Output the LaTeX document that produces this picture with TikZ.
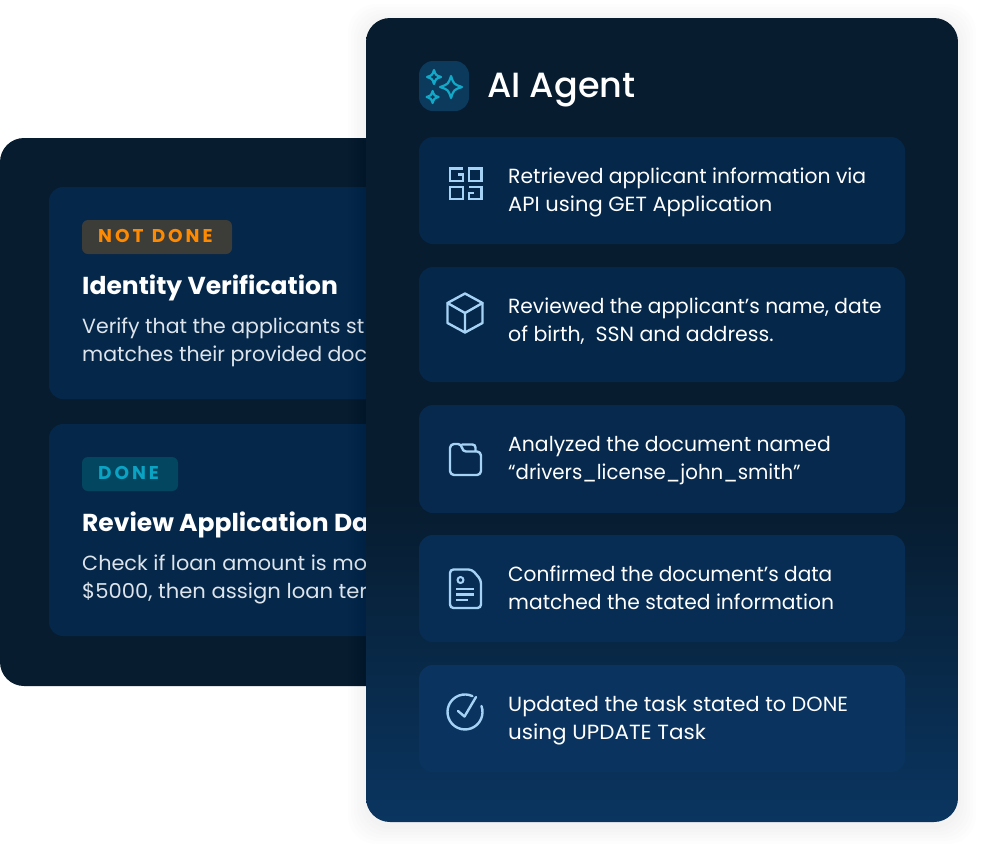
\documentclass[tikz,border=0pt]{standalone}
\usepackage{fontspec}
\setmainfont{Poppins}
\newfontfamily\tagfont[LetterSpace=16,WordSpace=1.2]{Poppins}
\newfontfamily\titlefont{Poppins Medium}
\definecolor{panelA}{HTML}{071C2F}
\definecolor{panelC}{HTML}{0A3560}
\definecolor{cardA}{HTML}{05274A}
\definecolor{cardB}{HTML}{06294D}
\definecolor{cardC}{HTML}{072D54}
\definecolor{cardD}{HTML}{0A345F}
\definecolor{iconblue}{HTML}{A6D2F5}
\definecolor{bodygrey}{HTML}{DDE4EB}
\definecolor{tagor}{HTML}{FF8A00}
\definecolor{tagorbg}{HTML}{3C3C39}
\definecolor{tagcy}{HTML}{0AA3C4}
\definecolor{tagcybg}{HTML}{03465F}
\definecolor{sparkbg}{HTML}{0B3A5C}
\definecolor{spark}{HTML}{12A9C9}
\pgfdeclareverticalshading{panelgrad}{100bp}{color(0bp)=(panelC); color(25bp)=(panelC); color(45bp)=(panelA); color(100bp)=(panelA)}
\tikzset{
  x=1pt,y=-1pt,
  fitw/.style={xscale=#1,transform shape},
  cardtext/.style={anchor=base west,inner sep=0pt,text=white,font=\fontsize{20.5}{24}\selectfont},
  bodytext/.style={anchor=base west,inner sep=0pt,text=bodygrey,font=\fontsize{20.5}{24}\selectfont},
  headtext/.style={anchor=base west,inner sep=0pt,text=white,font=\fontsize{24.5}{28}\bfseries\selectfont},
  tagtext/.style={anchor=base west,inner sep=0pt,font=\tagfont\fontsize{18.5}{22}\bfseries\selectfont},
  icon/.style={draw=iconblue,line width=2.4pt,line join=round,line cap=round},
  gridicon/.style={draw=iconblue,line width=2.6pt,line join=miter,line cap=butt},
  sparkstar/.style={draw=spark,line width=2.2pt,line join=round},
}
\newcommand{\starshape}[3]{% x y r
  (#1,#2-#3) .. controls (#1+.25*#3,#2-.25*#3) .. (#1+#3,#2)
  .. controls (#1+.25*#3,#2+.25*#3) .. (#1,#2+#3)
  .. controls (#1-.25*#3,#2+.25*#3) .. (#1-#3,#2)
  .. controls (#1-.25*#3,#2-.25*#3) .. (#1,#2-#3) -- cycle}
\begin{document}
\begin{tikzpicture}
\useasboundingbox (0,0) rectangle (985,857);
\fill[white] (0,0) rectangle (985,857);
% left panel
\fill[panelA,rounded corners=24pt] (0,138) rectangle (420,686);
\fill[cardA,rounded corners=14pt] (49,187) rectangle (420,399);
\fill[cardA,rounded corners=14pt] (49,424) rectangle (420,636);
\fill[tagorbg,rounded corners=6pt] (82,220) rectangle (232,254);
\node[tagtext,text=tagor] (tagnot) at (98,242) {NOT DONE};
\node[headtext,fitw=1.02] (h1) at (82,294) {Identity Verification};
\node[bodytext] (b1a) at (82,333) {Verify that the applicants st};
\node[bodytext] (b1b) at (82,361) {matches their provided doc};
\fill[tagcybg,rounded corners=6pt] (82,457) rectangle (178,491);
\node[tagtext,text=tagcy] (tagdone) at (98,479) {DONE};
\node[headtext,fitw=1.02] (h2) at (82,531) {Review Application Da};
\node[bodytext,fitw=1.015] (b2a) at (82,570) {Check if loan amount is mo};
\node[bodytext,fitw=1.03] (b2b) at (82,598) {\$5000, then assign loan ter};
% soft shadow of the right panel
\foreach \s in {18,15,12,9,6,3}{
  \fill[black,opacity=.006,rounded corners=28pt] (366-\s,18-\s+4) rectangle (958+\s,822+\s+4);
}
% right panel
\shade[rounded corners=24pt,shading=panelgrad] (366,18) rectangle (958,822);
% header
\fill[sparkbg,rounded corners=14pt] (419,61) rectangle (469,111);
\draw[sparkstar] \starshape{451}{87}{11};
\draw[sparkstar] \starshape{434}{77}{7};
\draw[sparkstar] \starshape{432.6}{97}{6};
\node[anchor=base west,inner sep=0pt,text=white,font=\titlefont\fontsize{35}{40}\selectfont] (title) at (487,97) {AI Agent};
% cards
\fill[cardA,rounded corners=14pt] (419,137) rectangle (905,244);
\fill[cardA,rounded corners=14pt] (419,267) rectangle (905,382);
\fill[cardB,rounded corners=14pt] (419,405) rectangle (905,513);
\fill[cardC,rounded corners=14pt] (419,535) rectangle (905,642);
\fill[cardD,rounded corners=14pt] (419,665) rectangle (905,772);
% card texts
\node[cardtext,fitw=.992] (t1a) at (508,183) {Retrieved applicant information via};
\node[cardtext,fitw=1.027] (t1b) at (508,211) {API using GET Application};
\node[cardtext,fitw=.984] (t2a) at (508,313) {Reviewed the applicant’s name, date};
\node[cardtext] (t2b) at (508,341) {of birth,\ \ SSN and address.};
\node[cardtext,fitw=.994] (t3a) at (508,451) {Analyzed the document named};
\node[cardtext,fitw=.964] (t3b) at (508,479) {“drivers\_license\_john\_smith”};
\node[cardtext,fitw=.982] (t4a) at (508,581) {Confirmed the document’s data};
\node[cardtext,fitw=.988] (t4b) at (508,609) {matched the stated information};
\node[cardtext,fitw=1.015] (t5a) at (508,711) {Updated the task stated to DONE};
\node[cardtext,fitw=1.048] (t5b) at (508,739) {using UPDATE Task};
% grid icon
\draw[gridicon] (463,168.5) -- (450,168.5) -- (450,181) -- (463,181) -- (463,174.5) -- (458,174.5);
\draw[gridicon] (469,168.5) rectangle (481.5,181);
\draw[gridicon] (450,187) rectangle (463,199);
\draw[gridicon] (469,187) -- (481.5,187) -- (481.5,199) -- (469,199) -- (469,193) -- (474,193);
% cube icon
\draw[icon] (465,293.5) -- (482.5,303) -- (482.5,323) -- (465,332.5) -- (447.5,323) -- (447.5,303) -- cycle;
\draw[icon] (447.5,303) -- (465,313) -- (482.5,303) (465,313) -- (465,332.5);
% folder icon
\draw[icon,rounded corners=4pt] (450,444) -- (462,444) -- (462,451.5) -- (481,451.5) -- (481,475) -- (450,475) -- cycle;
\draw[icon,rounded corners=3pt] (462,444.5) -- (475.5,444.5) -- (475.5,451);
% document icon
\draw[icon,rounded corners=3.5pt] (450,569.5) -- (472,569.5) -- (481,580) -- (481,608) -- (450,608) -- cycle;
\draw[icon,line width=2pt] (460.5,580) circle[radius=3];
\draw[icon,line cap=butt] (456,589) -- (474,589) (456,594.5) -- (474,594.5) (456,600) -- (468,600);
% check icon
\draw[icon] (472.4,696.1) arc[start angle=-65,end angle=-380,radius=17.5];
\draw[icon] (458,711) -- (464.5,716.5) -- (476,697);
\end{tikzpicture}
\end{document}
